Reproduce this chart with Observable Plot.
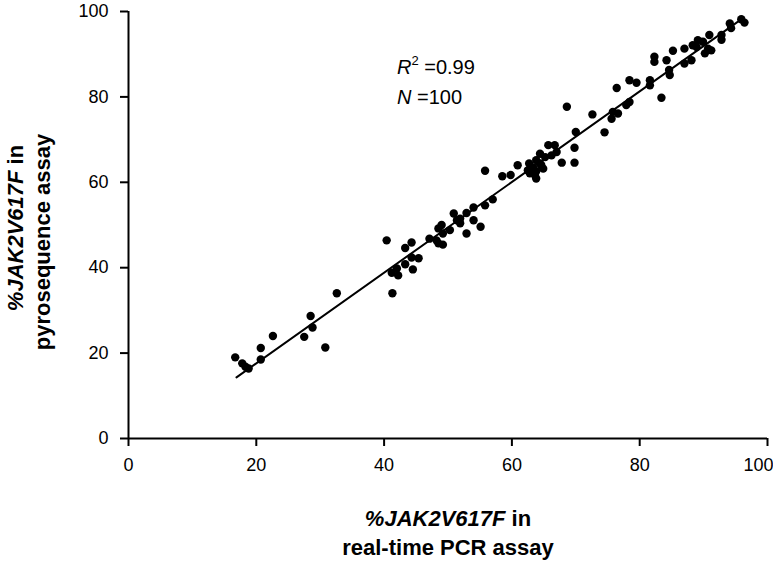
<!DOCTYPE html>
<html><head><meta charset="utf-8">
<script src="https://cdn.jsdelivr.net/npm/d3@7"></script>
<script src="https://cdn.jsdelivr.net/npm/@observablehq/plot@0.6"></script>
<style>body{margin:0;background:#fff} svg{display:block}</style>
</head><body><div id="chart"></div>
<script>
// %JAK2V617F in real-time PCR assay (x) vs pyrosequence assay (y)
const realTimePCR = [
  16.7,17.8,18.3,18.8,20.7,20.7,22.6,27.5,28.5,28.8,30.8,32.6,
  40.4,41.3,41.2,42.0,42.2,43.3,44.3,43.3,44.5,44.3,45.4,47.1,48.2,48.5,49.2,49.0,49.2,50.3,50.9,51.4,51.9,52.9,52.9,54.0,55.1,54.0,55.8,48.5,51.9,
  55.8,57.0,58.5,59.8,60.9,62.7,63.1,63.6,64.4,64.9,63.8,62.8,64.4,65.7,66.7,66.2,67.0,67.8,69.8,69.8,70.0,68.6,64.6,62.5,63.8,65.2,63.3,63.8,
  72.6,74.5,75.6,75.8,76.6,76.4,77.9,78.4,78.4,79.5,81.6,81.6,83.4,82.3,82.3,84.2,84.6,84.7,85.2,87.0,87.0,88.1,88.3,89.1,88.9,89.9,90.2,90.7,91.2,90.9,92.8,92.8,94.1,94.3,95.9,96.4
];
const pyrosequence = [
  19.0,17.6,16.8,16.4,21.2,18.5,24.0,23.8,28.7,26.0,21.3,34.0,
  46.4,34.0,38.8,39.8,38.2,44.6,45.9,40.8,39.6,42.4,42.2,46.8,46.4,45.7,45.4,50.0,48.0,48.8,52.7,51.1,50.4,48.0,52.8,51.1,49.6,54.1,54.6,49.2,51.5,
  62.7,56.0,61.4,61.7,64.0,64.4,62.8,61.7,64.4,63.2,60.9,62.1,66.7,68.7,68.7,66.3,67.1,64.6,68.1,64.6,71.8,77.7,64.0,62.8,62.6,65.9,63.5,65.2,
  75.9,71.7,74.9,76.5,76.1,82.1,78.1,78.8,83.9,83.3,83.9,82.7,79.8,89.4,88.2,88.6,86.3,85.1,90.8,87.8,91.3,88.6,92.1,93.3,91.7,92.9,90.2,91.3,90.9,94.5,94.5,93.4,97.2,96.1,98.2,97.4
];
// regression line end points
const fitX = [16.9, 96.1];
const fitY = [14.3, 98.4];
const xTicks = [0, 20, 40, 60, 80, 100];
const yTicks = [0, 20, 40, 60, 80, 100];
const r2Text = "0.99";
const nText = "100";

const points = realTimePCR.map((x, i) => ({x, y: pyrosequence[i]}));
const fit = fitX.map((x, i) => ({x, y: fitY[i]}));
const lastX = [xTicks[xTicks.length - 1]];

const FONT = "'Liberation Sans', Arial, Helvetica, sans-serif";

const chart = Plot.plot({
  width: 773, height: 562,
  marginLeft: 128, marginRight: 6, marginTop: 11, marginBottom: 124,
  style: {fontFamily: FONT, fontSize: "18px", color: "#000", background: "#fff"},
  x: {domain: [0, 100], label: null},
  y: {domain: [0, 100], label: null},
  marks: [
    Plot.axisX({ticks: xTicks, tickSize: 8, tickPadding: 12, strokeWidth: 2, fontSize: 18, label: null,
                tickFormat: d => (d === lastX[0] ? "" : String(d))}),
    Plot.axisX({ticks: lastX, tickSize: 0, tickPadding: 20, fontSize: 18, label: null, dx: -9}),
    Plot.axisY({ticks: yTicks, tickSize: 8, tickPadding: 12, strokeWidth: 2, fontSize: 18, label: null}),
    Plot.ruleY([0], {strokeWidth: 2, stroke: "#000"}),
    Plot.ruleX([0], {strokeWidth: 2, stroke: "#000"}),
    Plot.line(fit, {x: "x", y: "y", stroke: "#000", strokeWidth: 2}),
    Plot.dot(points, {x: "x", y: "y", r: 4.2, fill: "#000", stroke: "none"})
  ]
});
document.getElementById("chart").appendChild(chart);

const svg = d3.select(chart);
// annotation
const ann = svg.append("g").attr("font-family", FONT).attr("font-size", 20).attr("fill", "#000").attr("text-anchor", "start");
const t1 = ann.append("text").attr("x", 397).attr("y", 74);
t1.append("tspan").attr("font-style", "italic").text("R");
t1.append("tspan").attr("font-size", 13).attr("dy", -9).text("2");
t1.append("tspan").attr("dy", 9).text(" =" + r2Text);
const t2 = ann.append("text").attr("x", 397).attr("y", 104);
t2.append("tspan").attr("font-style", "italic").text("N");
t2.append("tspan").text(" =" + nText);

// x axis label
const xl = svg.append("g").attr("font-family", FONT).attr("font-size", 22).attr("font-weight", "bold").attr("text-anchor", "middle").attr("fill", "#000");
const xl1 = xl.append("text").attr("x", 448).attr("y", 526);
xl1.append("tspan").attr("font-style", "italic").text("%JAK2V617F");
xl1.append("tspan").text(" in");
xl.append("text").attr("x", 448).attr("y", 555).text("real-time PCR assay");

// y axis label
const yl = svg.append("g").attr("font-family", FONT).attr("font-size", 22).attr("font-weight", "bold").attr("text-anchor", "middle").attr("fill", "#000");
const yl1 = yl.append("text").attr("transform", "translate(23,228) rotate(-90)");
yl1.append("tspan").attr("font-style", "italic").text("%JAK2V617F");
yl1.append("tspan").text(" in");
yl.append("text").attr("transform", "translate(50,242) rotate(-90)").text("pyrosequence assay");
</script>
</body></html>
